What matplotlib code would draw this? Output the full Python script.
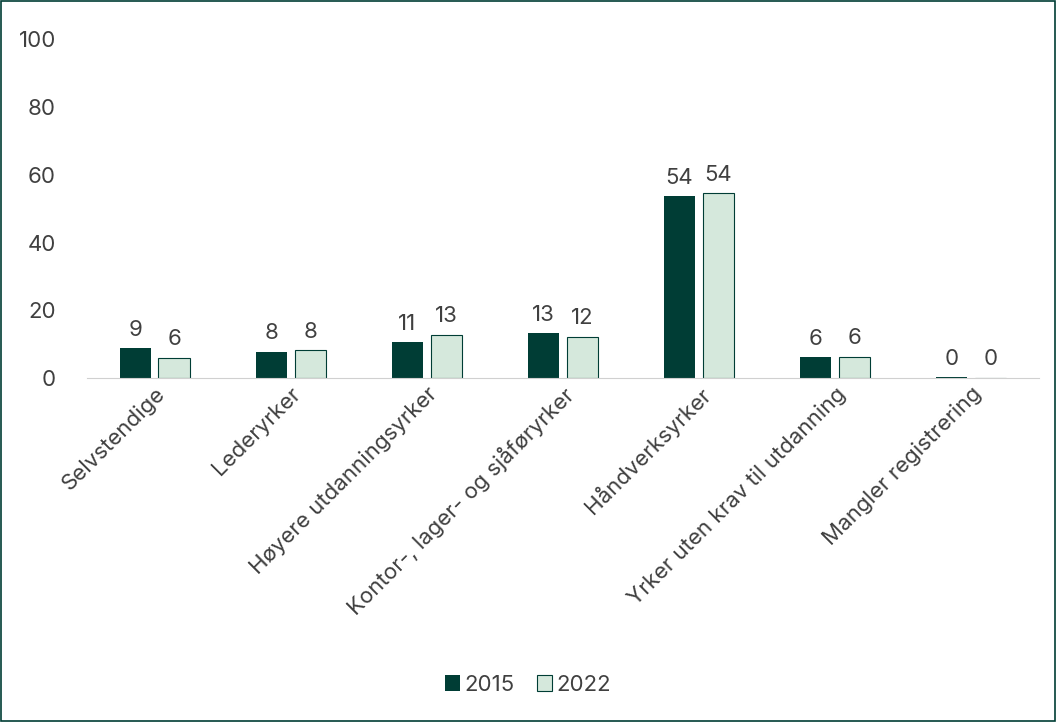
import matplotlib.pyplot as plt
import numpy as np
from matplotlib.patches import Rectangle

plt.rcParams['font.family'] = ['Inter', 'DejaVu Sans']

categories = ["Selvstendige", "Lederyrker", "Høyere utdanningsyrker",
              "Kontor-, lager- og sjåføryrker", "Håndverksyrker",
              "Yrker uten krav til utdanning", "Mangler registrering"]
v2015 = [8.8, 7.8, 10.7, 13.3, 53.7, 6.2, 0.3]
v2022 = [6.0, 8.3, 12.8, 12.2, 54.5, 6.4, 0.2]
labels2015 = ["9", "8", "11", "13", "54", "6", "0"]
labels2022 = ["6", "8", "13", "12", "54", "6", "0"]

dark = "#003d35"
light = "#d5e8dc"
txt = "#404040"

fig = plt.figure(figsize=(10.56, 7.22), dpi=100)
ax = fig.add_axes([0.082, 0.476, 0.902, 0.47])
x = np.arange(len(categories))
w = 0.23
b1 = ax.bar(x - 0.143, v2015, w, color=dark, label="2015")
b2 = ax.bar(x + 0.143, v2022, w, color=light, edgecolor=dark, linewidth=0.8, label="2022")
for bars, labs in ((b1, labels2015), (b2, labels2022)):
    for r, l in zip(bars, labs):
        ax.text(r.get_x() + r.get_width() / 2, r.get_height() + 2.5, l,
                ha="center", va="bottom", fontsize=16, color=txt)

ax.set_ylim(0, 100)
ax.set_xlim(-0.5, len(categories) - 0.5)
ax.set_yticks(range(0, 101, 20))
ax.tick_params(axis="y", length=0, labelsize=16, labelcolor=txt, pad=22)
ax.tick_params(axis="x", length=0, labelsize=16, labelcolor=txt)
ax.set_xticks(x)
ax.set_xticklabels(categories, rotation=45, ha="right", rotation_mode="anchor")
for s in ("top", "right", "left"):
    ax.spines[s].set_visible(False)
ax.spines["bottom"].set_color("#d0d0d0")

fig.legend(loc="lower center", bbox_to_anchor=(0.5, 0.01), ncol=2, frameon=False,
           fontsize=16, handlelength=0.7, handletextpad=0.2, columnspacing=1.0,
           labelcolor=txt)
fig.patches.append(Rectangle((0.001, 0.001), 0.998, 0.998, transform=fig.transFigure,
                             fill=False, edgecolor=dark, linewidth=1.2))
fig.savefig("out.png", dpi=100)
